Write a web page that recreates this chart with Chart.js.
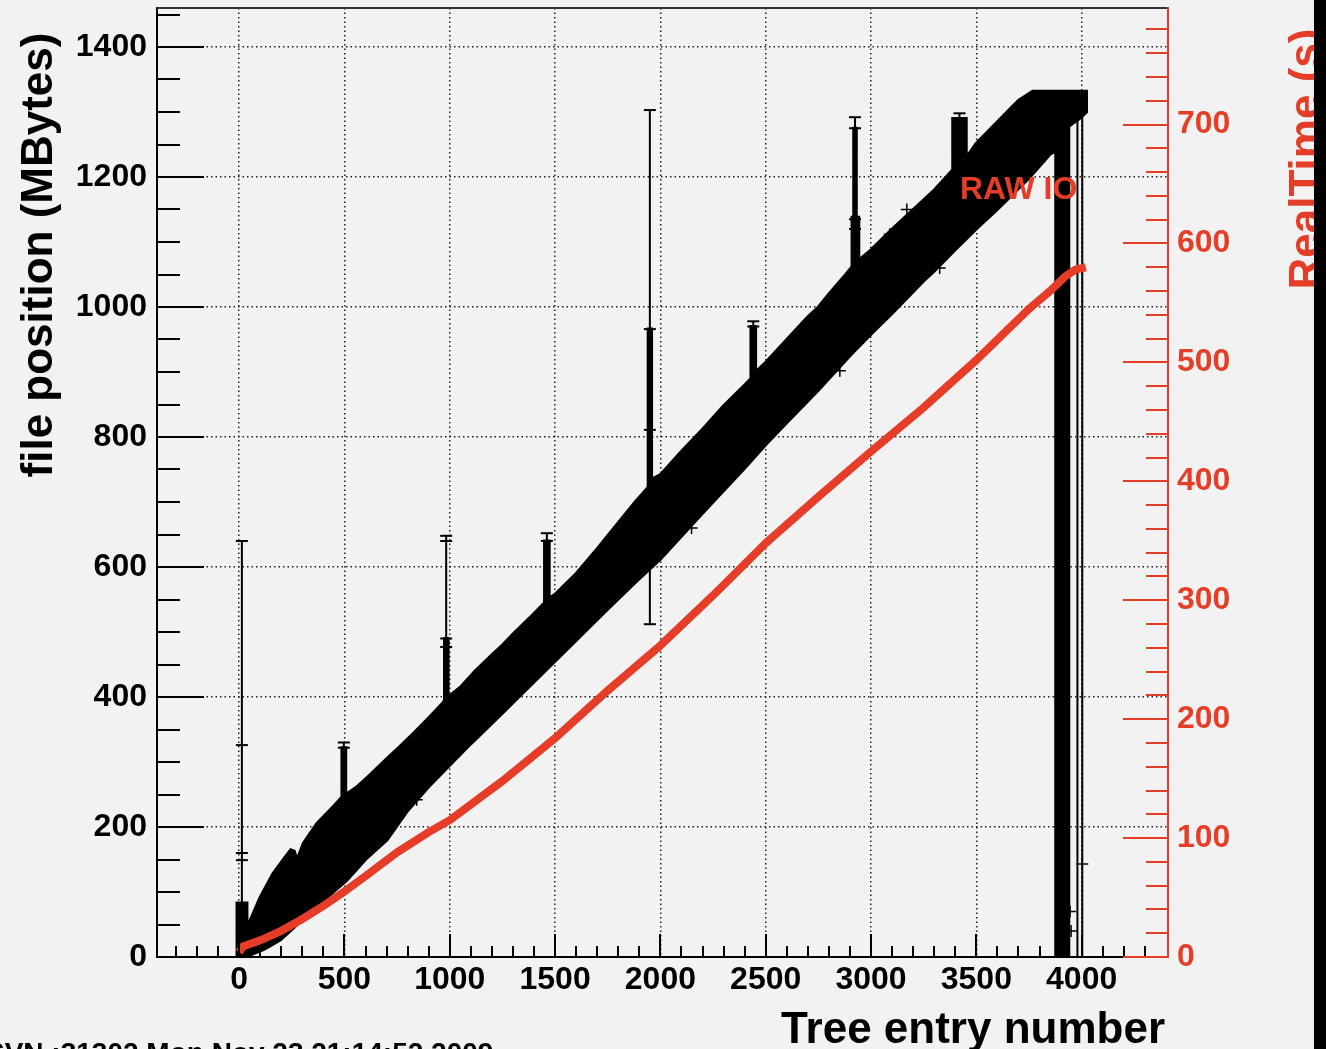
<!DOCTYPE html>
<html>
<head>
<meta charset="utf-8">
<script src="https://cdn.jsdelivr.net/npm/chart.js@4.4.0/dist/chart.umd.min.js"></script>
<style>
html,body{margin:0;padding:0;background:#000;overflow:hidden;}
#wrap{width:1314px;height:1049px;}
canvas{display:block;}
</style>
</head>
<body>
<div id="wrap"><canvas id="c" width="1314" height="1049"></canvas></div>
<script>
// ---- tick labels ----
const entryTicks = [0, 500, 1000, 1500, 2000, 2500, 3000, 3500, 4000];
const mbTicks = [0, 200, 400, 600, 800, 1000, 1200, 1400];
const timeTicks = [0, 100, 200, 300, 400, 500, 600, 700];

// ---- RealTime (s) vs entry (red curve, right axis) ----
const realTimeEntries = [0, 20, 100, 200, 300, 400, 500, 600, 750, 900, 1000, 1250, 1500, 1750, 2000, 2250, 2500, 2750, 3000, 3250, 3500, 3750, 3850, 3920, 3970, 4020];
const realTimeSeconds = [4, 9, 14, 22, 32, 43, 55, 68, 88, 105, 115, 148, 184, 224, 262, 304, 348, 387, 425, 462, 502, 545, 560, 572, 578, 580];

// ---- file position band (dense markers), upper edge left->right ----
const bandTopEntries = [-10, -10, 37, 37, 60, 100, 160, 210, 245, 262, 274, 305, 370, 446, 485,
  488, 488, 506, 506, 560, 620, 700, 750, 830, 900, 970,
  975, 975, 992, 992, 1050, 1120, 1200, 1250, 1300, 1380, 1440,
  1450, 1450, 1472, 1472, 1500, 1600, 1700, 1750, 1800, 1880, 1940,
  1942, 1942, 1958, 1958, 2000, 2100, 2200, 2250, 2300, 2400, 2430,
  2430, 2452, 2452, 2500, 2600, 2700, 2750, 2800, 2880, 2910,
  2910, 2918, 2918, 2930, 2930, 2942, 2942, 3000, 3100, 3200, 3250, 3300, 3385,
  3388, 3388, 3452, 3452, 3500, 3600, 3700, 3767, 4023];
const bandTopMB = [0, 83, 83, 46, 62, 92, 128, 150, 165, 163, 149, 175, 206, 231, 245,
  245, 322, 322, 250, 262, 280, 305, 320, 345, 368, 392,
  395, 490, 490, 400, 415, 440, 465, 480, 497, 522, 542,
  545, 640, 640, 552, 558, 590, 628, 648, 668, 700, 722,
  725, 966, 966, 735, 742, 778, 812, 830, 848, 880, 890,
  970, 970, 900, 915, 950, 985, 1000, 1020, 1050, 1062,
  1138, 1138, 1275, 1275, 1138, 1138, 1072, 1088, 1120, 1150, 1165, 1180, 1210,
  1212, 1290, 1290, 1230, 1252, 1285, 1318, 1332, 1332];

// ---- band lower edge left->right (incl. the drop near entry 3900) ----
const bandBottomEntries = [-10, 37, 60, 120, 195, 260, 337, 420, 512, 600, 702, 800, 900, 1000, 1100, 1250, 1400, 1500, 1600, 1750, 1900, 2000, 2150, 2250, 2400, 2500, 2600, 2750, 2900, 3000, 3100, 3250, 3300, 3400, 3500, 3600, 3750, 3850, 3877, 3877, 3939, 3939, 3990, 4023];
const bandBottomMB = [0, 0, 4, 12, 26, 45, 72, 92, 118, 150, 180, 225, 262, 295, 328, 375, 423, 455, 487, 535, 582, 612, 665, 700, 752, 788, 822, 872, 925, 958, 990, 1040, 1055, 1088, 1120, 1150, 1198, 1235, 1240, 0, 0, 1278, 1290, 1300];

// ---- isolated error bars (thin vertical lines) ----
const errEntries = [13, 497, 983, 1461, 1950, 2441, 2924, 3420, 3980, 4003];
const errLowMB = [83, 322, 490, 640, 512, 970, 1275, 1290, 0, 0];
const errHighMB = [640, 330, 648, 652, 1303, 978, 1292, 1298, 1300, 1300];

// ---- error bar caps ----
const capEntries = [13, 13, 13, 13, 497, 497, 983, 983, 983, 983, 1461, 1461, 1950, 1950, 1950, 1950, 2441, 2441, 2924, 2924, 2924, 2924, 3420];
const capMB = [640, 326, 160, 149, 330, 322, 648, 640, 490, 477, 652, 640, 1303, 966, 811, 512, 978, 970, 1292, 1275, 1135, 1120, 1298];

// ---- stray markers ----
const strayEntries = [843, 1000, 2148, 2852, 3089, 3170, 3326, 3945, 3950, 4003];
const strayMB = [242, 390, 660, 902, 1112, 1150, 1060, 70, 40, 143];

const RED = '#e53d27';
const BG = '#f2f2f2';
const FONT = '"Liberation Sans", Arial, Helvetica, sans-serif';

Chart.defaults.font.family = FONT;

const bandPolygon = bandTopEntries.map((e, i) => ({x: e, y: bandTopMB[i]}))
  .concat(bandBottomEntries.map((e, i) => ({x: e, y: bandBottomMB[i]})).reverse());

const errPoints = [];
errEntries.forEach((e, i) => {
  errPoints.push({x: e, y: errLowMB[i]}, {x: e, y: errHighMB[i]}, {x: e, y: null});
});

const framePlugin = {
  id: 'frame',
  beforeDraw(chart) {
    const ctx = chart.ctx;
    ctx.save();
    ctx.fillStyle = BG;
    ctx.fillRect(0, 0, chart.width, chart.height);
    ctx.restore();
  },
  afterDraw(chart) {
    const {ctx, chartArea: a, scales} = chart;
    const seg = (x1, y1, x2, y2) => { ctx.beginPath(); ctx.moveTo(x1, y1); ctx.lineTo(x2, y2); ctx.stroke(); };
    ctx.save();
    ctx.lineWidth = 2;
    ctx.strokeStyle = '#000';
    // left axis ticks (inside)
    for (let v = 0; v <= 1450; v += 50) {
      const y = Math.round(scales.y.getPixelForValue(v));
      seg(a.left, y, a.left + (v % 200 === 0 ? 47 : 23), y);
    }
    // bottom axis ticks (inside)
    for (let v = -300; v <= 4300; v += 100) {
      const x = Math.round(scales.x.getPixelForValue(v));
      seg(x, a.bottom, x, a.bottom - (v % 500 === 0 ? 23 : 11));
    }
    // frame
    ctx.strokeStyle = '#000';
    seg(a.left, a.top - 1, a.left, a.bottom + 1);
    seg(a.left, a.bottom, a.right, a.bottom);
    ctx.strokeStyle = '#333';
    seg(a.left, a.top, a.right, a.top);
    // right axis (red)
    ctx.strokeStyle = RED;
    for (let v = 0; v <= 780; v += 20) {
      const y = Math.round(scales.y2.getPixelForValue(v));
      seg(a.right - (v % 100 === 0 ? 45 : 22), y, a.right, y);
    }
    seg(a.right, a.top - 1, a.right, a.bottom + 1);
    seg(Math.round(scales.x.getPixelForValue(4200)), a.bottom, a.right, a.bottom);

    // texts
    ctx.textBaseline = 'alphabetic';
    ctx.fillStyle = RED;
    ctx.font = 'bold 32px ' + FONT;
    ctx.textAlign = 'left';
    ctx.fillText('RAW IO', 960, 199);

    ctx.fillStyle = '#000';
    ctx.font = 'bold 44px ' + FONT;
    ctx.textAlign = 'right';
    ctx.fillText('Tree entry number', 1165, 1043);

    ctx.save();
    ctx.translate(52, 255);
    ctx.rotate(-Math.PI / 2);
    ctx.textAlign = 'center';
    ctx.fillText('file position (MBytes)', 0, 0);
    ctx.restore();

    ctx.save();
    ctx.fillStyle = RED;
    ctx.translate(1320, 159);
    ctx.rotate(-Math.PI / 2);
    ctx.textAlign = 'center';
    ctx.fillText('RealTime (s)', 0, 0);
    ctx.restore();

    ctx.font = 'bold 28px ' + FONT;
    ctx.textAlign = 'left';
    ctx.fillText('SVN :31302 Mon Nov 23 21:14:52 2009', -14, 1062);
    ctx.restore();
  }
};

const tickFont = {family: FONT, size: 32, weight: 'bold', lineHeight: 1.2};
const fmt = v => String(v);
const noPadV = s => { s.paddingTop = 0; s.paddingBottom = 0; };

new Chart(document.getElementById('c'), {
  type: 'line',
  data: {
    datasets: [
      {
        label: 'RealTime',
        data: realTimeEntries.map((e, i) => ({x: e, y: realTimeSeconds[i]})),
        yAxisID: 'y2',
        borderColor: RED,
        borderWidth: 8,
        pointRadius: 0,
        tension: 0,
        fill: false
      },
      {
        label: 'caps',
        data: capEntries.map((e, i) => ({x: e, y: capMB[i]})),
        yAxisID: 'y',
        showLine: false,
        pointStyle: 'line',
        pointRadius: 6,
        pointBorderWidth: 2,
        borderColor: '#000',
        backgroundColor: '#000'
      },
      {
        label: 'stray',
        data: strayEntries.map((e, i) => ({x: e, y: strayMB[i]})),
        yAxisID: 'y',
        showLine: false,
        pointStyle: 'cross',
        pointRadius: 6,
        pointBorderWidth: 1.5,
        borderColor: '#000',
        backgroundColor: '#000'
      },
      {
        label: 'errors',
        data: errPoints,
        yAxisID: 'y',
        borderColor: '#000',
        borderWidth: 2,
        pointRadius: 0,
        spanGaps: false,
        fill: false
      },
      {
        label: 'file position',
        data: bandPolygon,
        yAxisID: 'y',
        borderColor: '#000',
        backgroundColor: '#000',
        borderWidth: 3,
        pointRadius: 0,
        tension: 0,
        fill: 'shape'
      }
    ]
  },
  options: {
    responsive: false,
    devicePixelRatio: 1,
    animation: false,
    events: [],
    layout: {padding: {top: 8, left: 0, right: 0, bottom: 0}},
    plugins: {legend: {display: false}, tooltip: {enabled: false}, title: {display: false}},
    scales: {
      x: {
        type: 'linear',
        position: 'bottom',
        min: -390,
        max: 4410,
        afterBuildTicks: s => { s.ticks = entryTicks.map(v => ({value: v})); },
        afterFit: s => { s.height = 92; s.paddingLeft = 0; s.paddingRight = 0; },
        ticks: {font: tickFont, color: '#000', padding: 4, callback: fmt, autoSkip: false, maxRotation: 0},
        grid: {color: '#222', lineWidth: 1.5, drawTicks: false},
        border: {display: false, dash: [1.5, 3]}
      },
      y: {
        type: 'linear',
        position: 'left',
        min: 0,
        max: 1460,
        afterBuildTicks: s => { s.ticks = mbTicks.map(v => ({value: v})); },
        afterFit: s => { s.width = 157; noPadV(s); },
        ticks: {font: tickFont, color: '#000', padding: 10, callback: fmt, autoSkip: false},
        grid: {color: '#222', lineWidth: 1.5, drawTicks: false},
        border: {display: false, dash: [1.5, 3]}
      },
      y2: {
        type: 'linear',
        position: 'right',
        min: 0,
        max: 798,
        afterBuildTicks: s => { s.ticks = timeTicks.map(v => ({value: v})); },
        afterFit: s => { s.width = 146; noPadV(s); },
        ticks: {font: tickFont, color: RED, padding: 9, callback: fmt, autoSkip: false},
        grid: {display: false, drawTicks: false},
        border: {display: false}
      }
    }
  },
  plugins: [framePlugin]
});
</script>
</body>
</html>
